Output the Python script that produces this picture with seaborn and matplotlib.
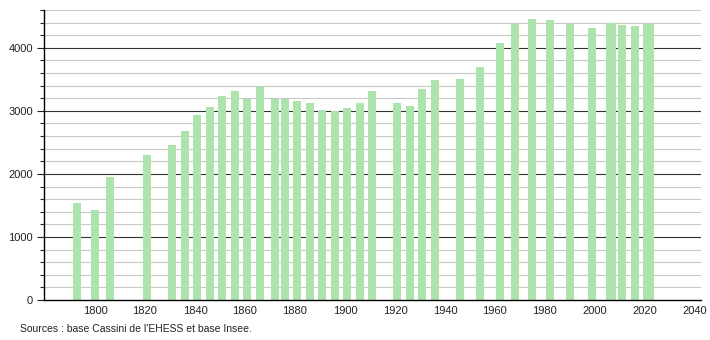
import matplotlib
matplotlib.use("Agg")
import matplotlib.pyplot as plt
import seaborn as sns
import pandas as pd
from matplotlib.ticker import MultipleLocator

years = [1793, 1800, 1806, 1821, 1831, 1836, 1841, 1846, 1851, 1856, 1861, 1866,
         1872, 1876, 1881, 1886, 1891, 1896, 1901, 1906, 1911, 1921, 1926, 1931,
         1936, 1946, 1954, 1962, 1968, 1975, 1982, 1990, 1999, 2006, 2007, 2011,
         2016, 2021, 2022]
population = [1545, 1430, 1955, 2305, 2465, 2675, 2930, 3068, 3228, 3315, 3188, 3380,
              3188, 3188, 3164, 3125, 3020, 2992, 3053, 3122, 3323, 3127, 3079, 3349,
              3492, 3505, 3698, 4069, 4380, 4460, 4444, 4376, 4315, 4380, 4390, 4370,
              4352, 4372, 4376]
xticks = [1800, 1820, 1840, 1860, 1880, 1900, 1920, 1940, 1960, 1980, 2000, 2020, 2040]
source_text = "Sources : base Cassini de l'EHESS et base Insee."

df = pd.DataFrame({"year": years, "population": population})

sns.set_style("white")
plt.rcParams["font.family"] = ["Liberation Sans", "DejaVu Sans"]

fig = plt.figure(figsize=(7.1, 3.4), dpi=100)
ax = fig.add_axes([44 / 710, 1 - 300 / 340, (700.7 - 44) / 710, 290 / 340])

sns.barplot(data=df, x="year", y="population", native_scale=True, width=3.2,
            color="#ade3ad", saturation=1, linewidth=0, errorbar=None, ax=ax, zorder=3)

ax.set_xlim(1779.6, 2042.3)
ax.set_ylim(0, 4600)

for v in range(200, 4601, 200):
    if v % 1000 == 0:
        ax.axhline(v, color="#333333", lw=0.8, zorder=1)
    else:
        ax.axhline(v, color="#c8c8c8", lw=0.8, zorder=1)

ax.yaxis.set_major_locator(MultipleLocator(1000))
ax.yaxis.set_minor_locator(MultipleLocator(200))
ax.set_xticks(xticks)
ax.set_xticklabels([str(t) for t in xticks])
ax.tick_params(axis="x", length=0, labelsize=8, pad=4, colors="#222222")
ax.tick_params(axis="y", which="major", length=5, width=0.8, labelsize=8, pad=3,
               colors="#222222", left=True)
ax.tick_params(axis="y", which="minor", length=3, width=0.8, left=True, color="#222222")
ax.set_xlabel("")
ax.set_ylabel("")
for s in ["top", "right"]:
    ax.spines[s].set_visible(False)
ax.spines["left"].set_color("black")
ax.spines["bottom"].set_color("black")
ax.spines["left"].set_linewidth(1.0)
ax.spines["bottom"].set_linewidth(1.0)
ax.spines["left"].set_zorder(5)
ax.spines["bottom"].set_zorder(5)

fig.text(20 / 710, 1 - 329 / 340, source_text, fontsize=7.5, color="#222222",
         va="center", ha="left")

fig.savefig("out.png", dpi=100)
